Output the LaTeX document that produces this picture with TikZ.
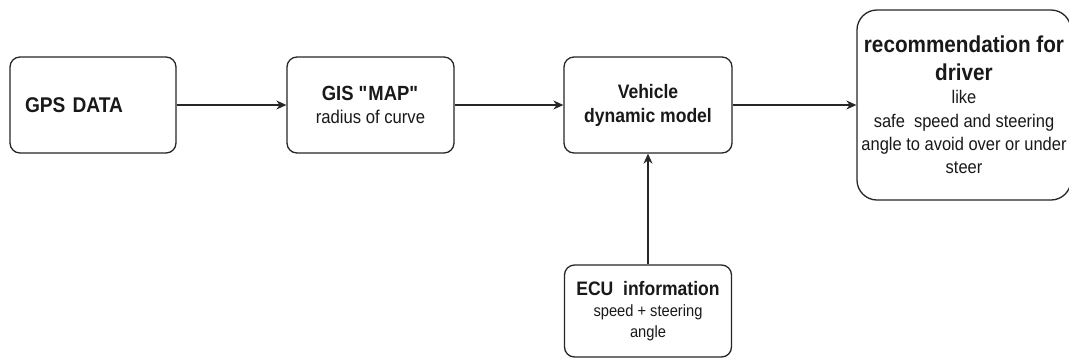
\documentclass[tikz,border=0pt]{standalone}
\usepackage{fontspec}
\setmainfont{Liberation Sans}[FakeStretch=0.9]
\usetikzlibrary{arrows.meta}
\newcommand\fsz[2]{\fontsize{#1}{#2}\selectfont}
\newcommand\straightquote{\XeTeXglyph\XeTeXcharglyph"22\relax}
\begin{document}
\begin{tikzpicture}[x=1pt,y=-1pt,
  box/.style={draw=black!85, line width=1.3pt, rounded corners=10pt, fill=white,
              inner sep=2pt, text=black!90},
  arr/.style={draw=black!85, line width=1.3pt, -{Stealth[length=10pt,width=9pt]}}]
\useasboundingbox (0,0) rectangle (1069,360);

\node[box, minimum width=166pt, minimum height=96pt, text width=136pt, inner xsep=15pt,
      align=left, font=\fsz{21.3}{24}\bfseries] (gps) at (93,105) {GPS DATA};

\node[box, minimum width=167pt, minimum height=96pt, align=center,
      font=\fsz{18.5}{23}] (gis) at (370.5,105)
      {{\fsz{20.5}{23}\bfseries GIS \straightquote MAP\straightquote}\\radius of curve};

\node[box, minimum width=168pt, minimum height=96pt, align=center,
      font=\fsz{19.5}{24}\bfseries] (veh) at (648,105) {Vehicle\\dynamic model};

\node[box, minimum width=167pt, minimum height=92pt, align=center,
      font=\fsz{16.3}{21}] (ecu) at (648,311)
      {{\fsz{19.5}{21}\bfseries ECU\ \ information}\\speed + steering\\angle};

\node[box, rounded corners=20pt, minimum width=214pt, minimum height=190pt, inner xsep=1pt,
      align=center, font=\fsz{18.3}{23.3}] (rec) at (964,105)
      {{\fsz{23}{23.3}\bfseries recommendation for}\\[4.7pt]{\fsz{23}{23.3}\bfseries driver}\\like\\safe\ \ speed and steering\\angle to avoid over or under\\steer};

\draw[arr] (gps) -- (gis);
\draw[arr] (gis) -- (veh);
\draw[arr] (veh) -- (rec);
\draw[arr] (ecu) -- (veh);
\end{tikzpicture}
\end{document}
